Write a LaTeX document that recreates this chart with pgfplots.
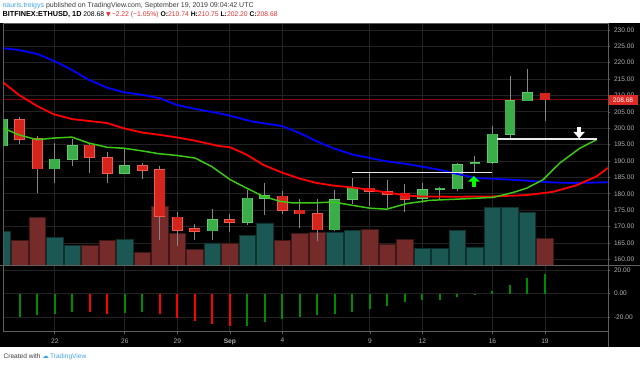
\documentclass[border=0pt]{standalone}
\usepackage{fontspec}
\setmainfont{Liberation Sans}
\newfontfamily\dejavu{DejaVu Sans}
\usepackage{pgfplots}
\pgfplotsset{compat=1.18}
\usepackage{pgfplotstable}
\usetikzlibrary{arrows.meta}

\definecolor{cFrame}{RGB}{95,95,95}
\definecolor{cGrid}{RGB}{34,34,34}
\definecolor{cLabel}{RGB}{180,180,180}
\definecolor{cUp}{RGB}{58,172,72}
\definecolor{cUpB}{RGB}{96,200,104}
\definecolor{cDn}{RGB}{212,36,28}
\definecolor{cDnB}{RGB}{238,92,80}
\definecolor{cWick}{RGB}{135,135,135}
\definecolor{cVolUp}{RGB}{27,88,83}
\definecolor{cVolUpB}{RGB}{14,50,47}
\definecolor{cVolDn}{RGB}{118,43,43}
\definecolor{cVolDnB}{RGB}{64,22,22}
\definecolor{cJaw}{RGB}{0,0,255}
\definecolor{cTeeth}{RGB}{255,0,0}
\definecolor{cLips}{RGB}{60,200,20}
\definecolor{cOscUp}{RGB}{0,138,0}
\definecolor{cOscDn}{RGB}{255,0,0}
\definecolor{cPriceLine}{RGB}{125,0,0}
\definecolor{cPriceBox}{RGB}{226,40,36}
\definecolor{cHdrRed}{RGB}{222,50,50}
\definecolor{cHdrTxt}{RGB}{60,60,60}
\definecolor{cTV}{RGB}{66,165,230}

% candles: day index (Sep 1 = 0), open high low close
\pgfplotstableread{
x o h l c
-13 194.6 203.6 194.0 202.8
-10 187.6 195.5 183.3 190.6
-9 190.6 196.7 188.6 194.6
-6 186.3 193.9 186.0 188.6
-1 168.7 175.3 166.0 172.0
1 171.3 181.2 170.5 178.7
2 178.6 183.3 173.6 179.4
6 169.0 181.2 168.5 178.3
7 178.4 184.8 176.9 181.9
11 178.6 183.3 177.2 181.2
12 181.4 182.0 178.2 181.7
13 181.5 189.5 180.7 188.8
14 189.1 191.4 186.3 189.5
15 189.5 200.7 189.1 198.2
16 198.2 215.8 197.0 208.4
17 208.4 218.0 208.4 210.9
}\upC
\pgfplotstableread{
x o h l c
-12 202.6 203.4 195.2 196.7
-11 196.9 197.5 180.2 187.6
-8 194.8 195.5 186.3 191.2
-7 191.1 192.9 183.3 186.3
-5 188.6 189.3 184.5 187.2
-4 187.3 188.6 165.8 173.1
-3 172.9 174.3 164.1 168.9
-2 169.3 170.9 166.0 168.5
0 172.0 173.9 168.2 171.2
3 179.3 180.7 173.8 175.0
4 175.0 178.4 169.5 173.9
5 173.9 178.4 165.5 169.0
8 181.7 186.5 176.3 180.7
9 180.7 184.3 175.7 179.9
10 180.2 183.0 174.3 178.4
18 210.74 210.75 202.2 208.68
}\dnC
% volume (in price-scale units of the overlay)
\pgfplotstableread{
x v
-13 168.4
-10 166.8
-9 164.2
-6 166.0
-1 165.0
1 167.3
2 171.1
6 168.3
7 168.8
11 163.2
12 163.4
13 168.8
14 163.8
15 175.9
16 175.9
17 174.4
}\volUp
\pgfplotstableread{
x v
-12 165.7
-11 172.8
-8 164.4
-7 165.8
-5 162.0
-4 176.1
-3 168.0
-2 163.1
0 165.0
3 165.7
4 167.8
5 168.3
8 169.0
9 164.5
10 166.2
18 166.5
}\volDn
% oscillator
\pgfplotstableread{
x v
-12 -20.3
-11 -18.6
-10 -17.0
-9 -15.6
-6 -16.4
-5 -15.8
1 -27.5
2 -24.4
3 -21.9
4 -20.0
5 -18.3
6 -17.0
7 -15.6
8 -13.0
9 -10.3
10 -7.5
11 -5.6
12 -5.1
13 -3.1
14 -0.8
15 2.5
16 7.6
17 13.2
18 17.2
}\oscUp
\pgfplotstableread{
x v
-8 -16.1
-7 -17.2
-4 -17.8
-3 -21.1
-2 -23.0
-1 -26.1
0 -27.8
}\oscDn
% alligator lines
\pgfplotstableread{
x y
-12.92 224.4
-12.06 223.9
-11.01 222.7
-10.07 220.6
-9.02 217.8
-8.07 214.8
-7.02 212.4
-6.07 211.0
-5.02 210.2
-4.02 209.2
-3.02 207.1
-1.98 205.9
-0.65 204.6
0.02 203.8
1.33 202.0
2.97 200.7
4.01 198.5
4.96 196.0
5.91 193.9
7.05 191.9
8.01 190.9
8.96 189.9
10.10 189.1
10.96 188.3
12.00 187.3
12.95 186.1
14.09 184.8
15.42 184.5
16.95 184.0
18.28 183.5
19.61 183.3
21.60 183.5
}\jaw
\pgfplotstableread{
x y
-12.92 213.9
-12.06 210.2
-11.01 206.8
-10.07 204.3
-9.02 202.8
-7.02 201.6
-6.07 200.0
-5.02 198.7
-4.02 198.0
-3.02 197.2
-1.98 196.2
-0.65 194.6
0.02 194.2
0.97 191.9
1.92 188.8
2.97 186.5
4.01 184.6
4.96 183.3
5.91 182.5
7.05 181.9
8.01 181.2
8.96 180.4
10.10 179.5
10.86 179.2
12.76 179.1
15.04 179.2
16.95 179.6
18.47 180.6
19.80 182.6
20.94 185.3
21.60 187.9
}\teeth
\pgfplotstableread{
x y
-12.92 200.0
-12.06 198.0
-11.01 196.5
-10.07 197.0
-9.02 197.3
-8.07 195.5
-7.02 194.2
-6.07 193.9
-5.02 193.1
-4.02 192.2
-3.02 191.7
-1.98 190.9
-1.03 188.3
0.02 184.3
0.97 181.7
1.92 179.2
2.87 177.7
3.63 177.2
4.77 177.2
5.91 177.5
6.86 176.6
8.00 175.6
8.96 175.3
10.10 177.0
11.43 178.0
13.14 178.4
15.04 178.9
16.18 180.4
16.95 181.7
17.89 184.3
18.85 189.4
19.99 193.9
20.94 196.5
}\lips

\pgfplotsset{
  chartbase/.style={
    scale only axis, width=605pt,
    xmin=-12.92, xmax=21.6,
    axis line style={draw=cFrame, line width=0.7pt},
    grid=major, major grid style={draw=cGrid, line width=0.8pt},
    xtick={-10,-6,-3,0,3,8,11,15,18},
    tick align=outside, major tick length=2.5pt,
    tick style={draw=cFrame, line width=0.6pt},
    ytick pos=right, yticklabel pos=right,
    ticklabel style={font=\fontsize{6.6}{7}\selectfont, text=cLabel},
    /pgf/number format/assume math mode=true,
    yticklabel={\pgfmathprintnumber[fixed,fixed zerofill,precision=2]{\tick}},
  },
  wick/.style={draw=none, mark=none, forget plot,
    error bars/.cd, y dir=plus, y explicit, error mark=none,
    error bar style={draw=cWick, line width=0.9pt}},
  body/.style 2 args={draw=none, mark=none, forget plot,
    error bars/.cd, y dir=plus, y explicit, error mark=none,
    error bar style={draw=#1, line width=#2}},
}

\begin{document}
\begin{tikzpicture}[x=1pt,y=1pt]
\fill[white] (0,0) rectangle (640,367);
\fill[black] (0,20) rectangle (640,344);

\begin{axis}[chartbase, name=main, at={(3.3pt,101pt)}, anchor=south west,
  height=242.7pt, ymin=158.05, ymax=232.04,
  ytick={160,165,...,230}, xticklabels={}, xtick style={draw=none}]
% volume
\addplot[ybar, bar width=16.6pt, bar shift=0pt, fill=cVolUp, draw=cVolUpB, line width=0.7pt, forget plot] table[x=x,y=v]{\volUp};
\addplot[ybar, bar width=16.6pt, bar shift=0pt, fill=cVolDn, draw=cVolDnB, line width=0.7pt, forget plot] table[x=x,y=v]{\volDn};
% last price line
\addplot[cPriceLine, line width=0.8pt, forget plot] coordinates {(-13,208.68) (22,208.68)};
% wicks
\addplot[wick] table[x=x, y=l, y error plus expr={\thisrow{h}-\thisrow{l}}]{\upC};
\addplot[wick] table[x=x, y=l, y error plus expr={\thisrow{h}-\thisrow{l}}]{\dnC};
% bodies: border pass then fill pass
\addplot[body={cUpB}{10.8pt}] table[x=x, y expr={min(\thisrow{o},\thisrow{c})-0.16}, y error plus expr={max(abs(\thisrow{c}-\thisrow{o}),0.3)+0.32}]{\upC};
\addplot[body={cUp}{9.4pt}] table[x=x, y expr={min(\thisrow{o},\thisrow{c})+0.05}, y error plus expr={max(abs(\thisrow{c}-\thisrow{o})-0.1,0.25)}]{\upC};
\addplot[body={cDnB}{10.8pt}] table[x=x, y expr={min(\thisrow{o},\thisrow{c})-0.16}, y error plus expr={max(abs(\thisrow{c}-\thisrow{o}),0.3)+0.32}]{\dnC};
\addplot[body={cDn}{9.4pt}] table[x=x, y expr={min(\thisrow{o},\thisrow{c})+0.05}, y error plus expr={max(abs(\thisrow{c}-\thisrow{o})-0.1,0.25)}]{\dnC};
% alligator
\addplot[cJaw, line width=1.8pt, forget plot] table[x=x,y=y]{\jaw};
\addplot[cTeeth, line width=1.8pt, forget plot] table[x=x,y=y]{\teeth};
\addplot[cLips, line width=1.5pt, forget plot] table[x=x,y=y]{\lips};
% drawn levels
\addplot[white!92!black, line width=1.8pt, forget plot] coordinates {(6.96,186.5) (14.95,186.5)};
\addplot[white!92!black, line width=1.8pt, forget plot] coordinates {(15.25,196.7) (20.96,196.7)};
% arrows
\addplot[green, line width=3.4pt, -{Triangle[width=11.5pt,length=5.5pt]}, forget plot] coordinates {(13.94,182.2) (13.94,185.4)};
\addplot[white, line width=3.8pt, -{Triangle[width=11pt,length=6.5pt]}, forget plot] coordinates {(19.95,200.4) (19.95,196.9)};
\coordinate (lastp) at (axis cs:21.6,208.68);
\end{axis}

\begin{axis}[chartbase, name=osc, at={(3.3pt,35pt)}, anchor=south west,
  height=66pt, ymin=-32.5, ymax=24, ytick={-20,0,20},
  xticklabels={22,26,29,\textbf{Sep},4,9,12,16,19},
  xtick pos=bottom,
  xticklabel style={yshift=-0.8pt}]
\addplot[ycomb, draw=cOscUp, line width=2pt, forget plot] table[x=x,y=v]{\oscUp};
\addplot[ycomb, draw=cOscDn, line width=2pt, forget plot] table[x=x,y=v]{\oscDn};
\end{axis}

% separators of the price column
\draw[cFrame, line width=0.7pt] (608.3,344) -- (608.3,20);
\draw[cFrame, line width=0.7pt] (0,101) -- (640,101);

% last price label
\node[fill=cPriceBox, text=white, inner sep=0pt, minimum width=29pt, minimum height=9.6pt,
  anchor=west, font=\fontsize{6.6}{7}\selectfont] at ([xshift=0.4pt]lastp) {208.68};

% header
\node[anchor=west, inner sep=0pt, font=\fontsize{7}{8}\selectfont] at (2,361)
  {\textcolor{cTV}{nauris.treigys} \textcolor{cHdrTxt}{published on TradingView.com, September 19, 2019 09:04:42 UTC}};
\node[anchor=west, inner sep=0pt, font=\fontsize{6.8}{8}\selectfont] at (2,352)
  {\textbf{\fontsize{7.3}{8}\selectfont BITFINEX:ETHUSD, 1D} 208.68 \textcolor{cHdrRed}{{\dejavu\fontsize{6}{7}\selectfont ▼}\,−2.22 (−1.05\%)} \textbf{O:}\textcolor{cHdrRed}{210.74} \textbf{H:}\textcolor{cHdrRed}{210.75} \textbf{L:}\textcolor{cHdrRed}{202.20} \textbf{C:}\textcolor{cHdrRed}{208.68}};
% footer
\node[anchor=west, inner sep=0pt, font=\fontsize{6.6}{8}\selectfont] at (3,9.5)
  {\textcolor{cHdrTxt}{Created with} \textcolor{cTV}{{\dejavu ☁}\,TradingView}};
\end{tikzpicture}
\end{document}
